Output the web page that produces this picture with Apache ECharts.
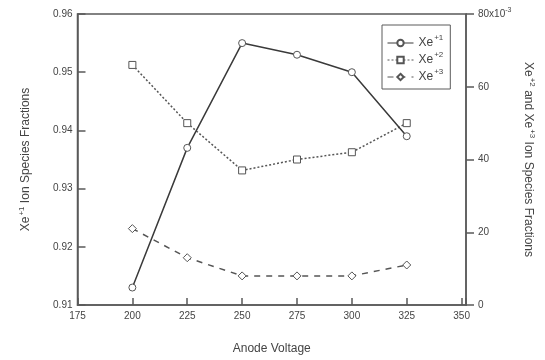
<!DOCTYPE html>
<html>
<head>
<meta charset="utf-8">
<script src="https://cdn.jsdelivr.net/npm/echarts@6/dist/echarts.min.js"></script>
<style>
  html, body { margin: 0; padding: 0; background: #fff; }
  #chart { width: 545px; height: 360px; }
</style>
</head>
<body>
<div id="chart"></div>
<script>
// Anode voltage sweep and the measured ion species fractions
const voltages = [200, 225, 250, 275, 300, 325];
const xe1Fraction = [0.913, 0.937, 0.955, 0.953, 0.950, 0.939];   // left axis
const xe2Fraction = [66, 50, 37, 40, 42, 50];                      // right axis, x10^-3
const xe3Fraction = [21, 13, 8, 8, 8, 11];                         // right axis, x10^-3
const seriesNames = ['Xe+1', 'Xe+2', 'Xe+3'];
const chargeStates = ['+1', '+2', '+3'];

const ink = '#444';
const axisInk = '#5a5a5a';
const font = 'Liberation Sans, Arial, sans-serif';

function pairs(xs, ys) { return xs.map((x, i) => [x, ys[i]]); }

const supStyle = (lh) => ({ fontSize: 8, verticalAlign: 'top', lineHeight: lh, fontFamily: font, color: ink, padding: [0, 0, 0, 1] });
const baseStyle = (size, lh) => ({ fontSize: size, lineHeight: lh, fontFamily: font, color: ink });

const chart = echarts.init(document.getElementById('chart'), null, { renderer: 'canvas' });

chart.setOption({
  animation: false,
  backgroundColor: '#fff',
  grid: {
    left: 77.5, right: 79, top: 14, bottom: 49,
    show: true, borderColor: axisInk, borderWidth: 1.5, backgroundColor: 'transparent'
  },
  legend: {
    orient: 'vertical',
    left: 382, top: 25,
    padding: [9, 7, 6, 5],
    itemGap: 2,
    itemWidth: 26, itemHeight: 8,
    borderColor: axisInk, borderWidth: 1,
    lineStyle: { width: 1 },
    data: seriesNames,
    formatter: (name) => '{b|Xe}{s|' + chargeStates[seriesNames.indexOf(name)] + '}',
    textStyle: { rich: { b: baseStyle(12, 18), s: supStyle(18) } }
  },
  xAxis: {
    type: 'value', min: 175, max: 352, interval: 25,
    name: 'Anode Voltage', nameLocation: 'middle', nameGap: 38,
    nameTextStyle: { fontSize: 12, fontFamily: font, color: ink },
    axisLine: { lineStyle: { color: axisInk, width: 1.5 } },
    axisTick: { inside: true, length: 7, lineStyle: { color: axisInk, width: 1.5 } },
    axisLabel: {
      margin: 6, fontSize: 10, fontFamily: font, color: ink,
      formatter: (v) => (v % 25 === 0 ? String(v) : '')
    },
    splitLine: { show: false }
  },
  yAxis: [
    {
      type: 'value', position: 'left', min: 0.91, max: 0.96, interval: 0.01,
      name: '{b|Xe}{s|+1}{b| Ion Species Fractions}',
      nameLocation: 'middle', nameGap: 44, nameRotate: 90,
      nameTextStyle: { rich: { b: baseStyle(12, 16), s: supStyle(16) } },
      axisLine: { show: true, lineStyle: { color: axisInk, width: 1.5 } },
      axisTick: { show: true, inside: true, length: 8, lineStyle: { color: axisInk, width: 1.5 } },
      axisLabel: { margin: 5, fontSize: 10, fontFamily: font, color: ink, formatter: (v) => v.toFixed(2) },
      splitLine: { show: false }
    },
    {
      type: 'value', position: 'right', min: 0, max: 80, interval: 20,
      name: '{b|Xe}{s|+2}{b| and Xe}{s|+3}{b| Ion Species Fractions}',
      nameLocation: 'middle', nameGap: 53, nameRotate: -90,
      nameTextStyle: { rich: { b: baseStyle(12, 16), s: supStyle(16) } },
      axisLine: { show: true, lineStyle: { color: axisInk, width: 1.5 } },
      axisTick: { show: true, inside: false, length: 8, lineStyle: { color: axisInk, width: 1.5 } },
      axisLabel: {
        margin: 12, fontSize: 10, fontFamily: font, color: ink,
        formatter: (v) => (v === 80 ? '{b|80x10}{s|-3}' : String(v)),
        rich: {
          b: { fontSize: 10, lineHeight: 14, fontFamily: font, color: ink },
          s: { fontSize: 7, verticalAlign: 'top', lineHeight: 14, fontFamily: font, color: ink }
        }
      },
      splitLine: { show: false }
    }
  ],
  series: [
    {
      name: seriesNames[0], type: 'line', yAxisIndex: 0,
      data: pairs(voltages, xe1Fraction),
      symbol: 'circle', symbolSize: 7, showAllSymbol: true,
      lineStyle: { color: '#3a3a3a', width: 1.5, type: 'solid' },
      itemStyle: { color: '#fff', borderColor: '#555', borderWidth: 1 },
      z: 3
    },
    {
      name: seriesNames[1], type: 'line', yAxisIndex: 1,
      data: pairs(voltages, xe2Fraction),
      symbol: 'rect', symbolSize: 7, showAllSymbol: true,
      lineStyle: { color: '#555', width: 1.5, type: [2, 2] },
      itemStyle: { color: '#fff', borderColor: '#555', borderWidth: 1 },
      z: 2
    },
    {
      name: seriesNames[2], type: 'line', yAxisIndex: 1,
      data: pairs(voltages, xe3Fraction),
      symbol: 'diamond', symbolSize: 8, showAllSymbol: true,
      lineStyle: { color: '#555', width: 1.5, type: [6, 6] },
      itemStyle: { color: '#fff', borderColor: '#555', borderWidth: 1 },
      z: 2
    }
  ]
});
</script>
</body>
</html>
